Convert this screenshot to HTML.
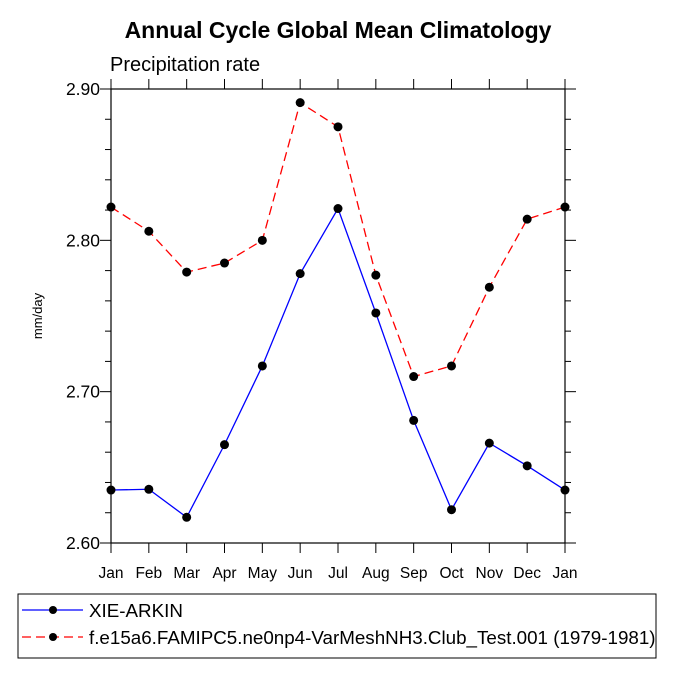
<!DOCTYPE html>
<html><head><meta charset="utf-8"><style>
body{margin:0;background:#fff;}
svg text{font-family:"Liberation Sans",Arial,sans-serif;}
</style></head><body>
<svg id="c" width="675" height="675" viewBox="0 0 675 675" xmlns="http://www.w3.org/2000/svg">
<text x="338" y="38" text-anchor="middle" font-size="23" font-weight="bold">Annual Cycle Global Mean Climatology</text>
<text x="110" y="71" font-size="20">Precipitation rate</text>
<text transform="translate(42,316) rotate(-90)" text-anchor="middle" font-size="13">mm/day</text>
<g id="axes"></g>
<g id="series"></g>
<rect x="18" y="594" width="638" height="64" fill="none" stroke="#000" stroke-width="1"/>
<g>
<line x1="22" y1="610" x2="83" y2="610" stroke="#00f" stroke-width="1.3"/>
<circle cx="53" cy="610" r="4" fill="#000"/>
<text x="89" y="617" font-size="18.8">XIE-ARKIN</text>
</g>
<g>
<line x1="22" y1="637" x2="83" y2="637" stroke="#f00" stroke-width="1.3" stroke-dasharray="9,5"/>
<circle cx="53" cy="637" r="4" fill="#000"/>
<text x="89" y="644" font-size="18.8">f.e15a6.FAMIPC5.ne0np4-VarMeshNH3.Club_Test.001 (1979-1981)</text>
</g>
</svg>
<script>
const months=["Jan","Feb","Mar","Apr","May","Jun","Jul","Aug","Sep","Oct","Nov","Dec","Jan"];
const obsValues=[2.635,2.6355,2.617,2.665,2.717,2.778,2.821,2.752,2.681,2.622,2.666,2.651,2.635];
const modelValues=[2.822,2.806,2.779,2.785,2.800,2.891,2.875,2.777,2.710,2.717,2.769,2.814,2.822];
const yTicks=[2.60,2.70,2.80,2.90];
const yTickLabels=["2.60","2.70","2.80","2.90"];
const NS="http://www.w3.org/2000/svg";
const L=111,R=565,T=89,B=543,y0=2.60,y1=2.90;
const xs=i=>L+(R-L)*i/(months.length-1);
const ys=v=>B-(v-y0)/(y1-y0)*(B-T);
function mk(tag,attrs,parent){const e=document.createElementNS(NS,tag);for(const k in attrs)e.setAttribute(k,attrs[k]);parent.appendChild(e);return e;}
const ax=document.getElementById('axes');
const frame=mk('rect',{x:L,y:T,width:R-L,height:B-T,fill:'none',stroke:'#000','stroke-width':1.2},ax);


for(let v=y0;v<=y1+1e-9;v+=0.02){const y=ys(v);const major=Math.abs(Math.round(v*10)-v*10)<1e-6;const len=major?11:6;
mk('line',{x1:L-len,y1:y,x2:L,y2:y,stroke:'#000','stroke-width':1},ax);
mk('line',{x1:R,y1:y,x2:R+len,y2:y,stroke:'#000','stroke-width':1},ax);}
yTicks.forEach((v,i)=>{const t=mk('text',{x:L-11,y:ys(v)+6,'text-anchor':'end','font-size':17.5},ax);t.textContent=yTickLabels[i];

});
months.forEach((m,i)=>{const x=xs(i);
mk('line',{x1:x,y1:B,x2:x,y2:B+10,stroke:'#000','stroke-width':1},ax);
mk('line',{x1:x,y1:T-10,x2:x,y2:T,stroke:'#000','stroke-width':1},ax);
const t=mk('text',{x:x,y:B+35,'text-anchor':'middle','font-size':15.5},ax);t.textContent=m;

});
const sg=document.getElementById('series');
function series(vals,color,dash,name){const g=mk('g',{},sg);


const a={points:vals.map((v,i)=>xs(i)+','+ys(v)).join(' '),fill:'none',stroke:color,'stroke-width':1.3};if(dash)a['stroke-dasharray']=dash;mk('polyline',a,g);
vals.forEach((v,i)=>{const c=mk('circle',{cx:xs(i),cy:ys(v),r:4.5,fill:'#000'},g);

});}
series(obsValues,'#00f',null,'series-xie-arkin');
series(modelValues,'#f00','9,5','series-model');
</script>
</body></html>
